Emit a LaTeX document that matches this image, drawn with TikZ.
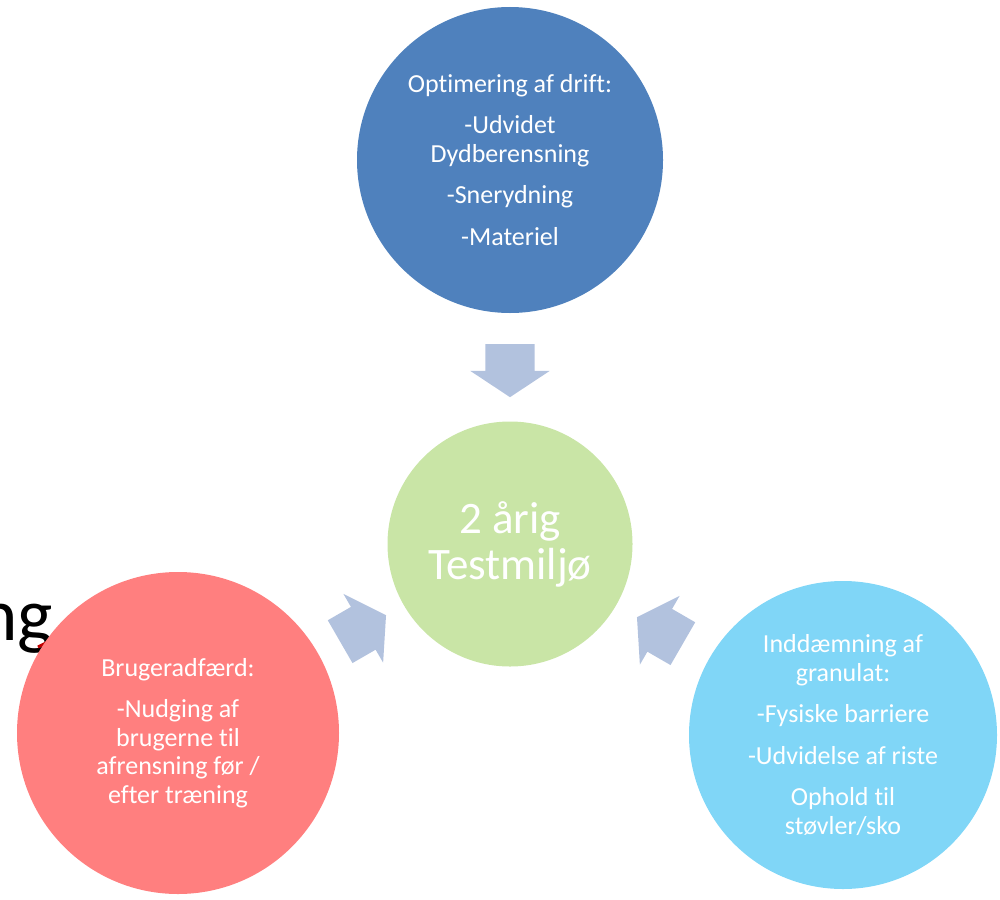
\documentclass[tikz,border=0pt]{standalone}
\usepackage{fontspec}
\setmainfont[Ligatures=NoCommon]{Carlito}
\usetikzlibrary{shapes.arrows}

\definecolor{driftblue}{HTML}{4F81BD}
\definecolor{testgreen}{HTML}{C9E5A6}
\definecolor{adfaerdred}{HTML}{FF7F7F}
\definecolor{granulatcyan}{HTML}{80D6F7}
\definecolor{pilblue}{HTML}{B2C2DE}
\definecolor{squiggle}{HTML}{C00000}

\begin{document}
\begin{tikzpicture}[x=1pt,y=-1pt]
\tikzstyle{every node} = [font = \fontsize{26}{28.5}\selectfont, text=white]
\tikzstyle{bubble} = [circle, inner sep=0pt, align=center]
\tikzstyle{pil} = [single arrow, fill=pilblue, minimum height=53pt, text width=0pt,
	text height=24.5pt, text depth=24.5pt, single arrow head extend=15pt,
	single arrow tip angle=113, inner sep=0pt, outer sep=0pt]
\useasboundingbox (0,0) rectangle (1000,899);
		% left-over text behind the red circle
		\node [anchor=base west, inner sep=0pt, text=black, font=\fontsize{75}{90}\selectfont] (ng) at (-22,640) {ng};
		\draw [squiggle, line width=3pt] (38,647) -- (52,640);
		% circles
		\node [bubble, fill=driftblue, minimum size=306pt] (drift) at (510,160)
			{Optimering af drift:\\[13pt] -Udvidet\\ Dydberensning\\[13pt] -Snerydning\\[13pt] -Materiel};
		\node [bubble, fill=testgreen, minimum size=245pt, font=\fontsize{45}{46}\selectfont] (test) at (510,544)
			{2 årig\\ Testmiljø};
		\node [bubble, fill=adfaerdred, minimum size=322pt] (adfaerd) at (178,733)
			{Brugeradfærd:\\[13pt] -Nudging af\\ brugerne til\\ afrensning før /\\ efter træning};
		\node [bubble, fill=granulatcyan, minimum size=308pt] (granulat) at (843,735)
			{Inddæmning af\\ granulat:\\[13pt] -Fysiske barriere\\[13pt] -Udvidelse af riste\\[13pt] Ophold til\\ støvler/sko};
		% arrows into the middle
		\node [pil, rotate=-90] (pil1) at (510,362.5) {};
		\node [pil, rotate=30] (pil2) at (356,632.5) {};
		\node [pil, rotate=150] (pil3) at (667,634.5) {};
\end{tikzpicture}
\end{document}
